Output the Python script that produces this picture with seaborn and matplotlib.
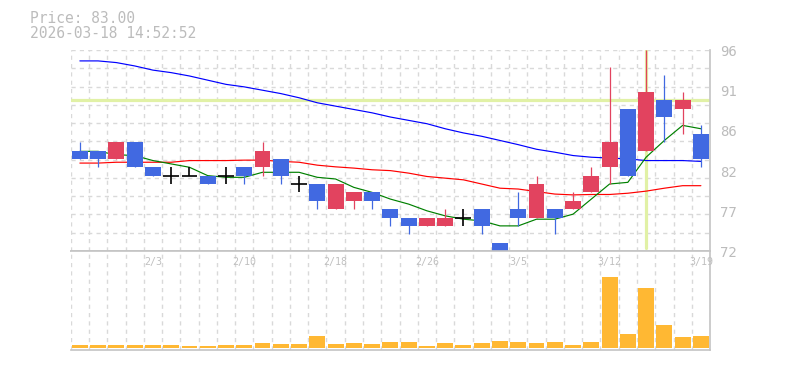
import matplotlib
matplotlib.use("Agg")
import numpy as np
import matplotlib.pyplot as plt
import seaborn as sns
from matplotlib.transforms import offset_copy

# daily candles, 1/28 .. 3/19
opens = [84, 84, 83, 85, 82, 81, 81, 81, 81, 82, 82, 83, 80, 80, 77, 78, 79, 77,
         76, 75, 75, 76, 77, 73, 77, 76, 77, 77, 79, 82, 89, 84, 90, 89, 86]
closes = [83, 83, 85, 82, 81, 81, 81, 80, 81, 81, 84, 81, 80, 78, 80, 79, 78, 76,
          75, 76, 76, 76, 75, 72, 76, 80, 76, 78, 81, 85, 81, 91, 88, 90, 83]
highs = [85, 84, 85, 85, 82, 82, 82, 81, 82, 82, 85, 83, 81, 80, 80, 79, 79, 77,
         76, 76, 77, 77, 77, 73, 79, 81, 77, 79, 82, 94, 89, 96, 93, 91, 87]
lows = [83, 82, 83, 82, 81, 80, 81, 80, 80, 80, 81, 80, 79, 77, 77, 77, 77, 75,
        74, 75, 75, 75, 74, 72, 75, 76, 74, 77, 79, 80, 81, 84, 85, 86, 82]

volumes = [27, 27, 27, 27, 27, 27, 17, 17, 27, 27, 47, 37, 37, 117, 37, 47, 37, 57,
           57, 17, 47, 27, 47, 67, 57, 47, 57, 27, 57, 710, 140, 600, 227, 110, 120]

ma5 = [83.9, 83.9, 83.5, 83.4, 82.8, 82.4, 82.0, 81.0, 80.8, 80.8, 81.4, 81.4,
       81.4, 80.8, 80.6, 79.6, 79.0, 78.2, 77.6, 76.8, 76.2, 75.8, 75.6, 75.0,
       75.0, 75.8, 75.8, 76.4, 78.2, 80.0, 80.2, 83.2, 85.2, 87.0, 86.6]
ma25 = [82.5, 82.5, 82.6, 82.6, 82.6, 82.6, 82.8, 82.8, 82.8, 82.85, 82.85, 82.7,
        82.6, 82.25, 82.05, 81.9, 81.7, 81.6, 81.3, 80.9, 80.7, 80.5, 80.0, 79.5,
        79.4, 79.1, 78.8, 78.7, 78.75, 78.75, 78.9, 79.15, 79.5, 79.8, 79.8]
ma75 = [94.7, 94.7, 94.5, 94.1, 93.6, 93.3, 92.9, 92.4, 91.9, 91.6, 91.2, 90.8,
        90.3, 89.7, 89.3, 88.9, 88.5, 88.0, 87.6, 87.2, 86.6, 86.1, 85.7, 85.2,
        84.7, 84.15, 83.8, 83.4, 83.2, 83.1, 83.0, 82.8, 82.8, 82.8, 82.7]

date_pos = [4, 9, 14, 19, 24, 29, 34]
date_labels = ["2/3", "2/10", "2/18", "2/26", "3/5", "3/12", "3/19"]
price_ticks = [72, 76.8, 81.6, 86.4, 91.2, 96]
price_tick_labels = ["72", "77", "82", "86", "91", "96"]
cross_idx = 31
cross_price = 90

sns.set_theme(style="white")
plt.rcParams['font.family'] = ['DejaVu Sans Mono', 'DejaVu Sans']

UP = "#e2435f"
DOWN = "#4169e1"
GRID = "#d9d9d9"
BORDER = "#c4c4c4"
TXT = "#bcbcbc"
n = len(closes)
idx = np.arange(n)
w = 0.87

fig = plt.figure(figsize=(7.85, 3.7), dpi=100)
ax = fig.add_axes([0.0901, 0.3216, 0.8144, 0.5432])
axv = fig.add_axes([0.0901, 0.0541, 0.8144, 0.2676])

# price panel
ax.set_axisbelow(True)
ax.axhline(cross_price, color="#e1f1a6", lw=2.3, zorder=1)
ax.axvline(cross_idx, ymin=0.015, color="#e1f1a6", lw=2.3, zorder=1)

sns.lineplot(x=idx, y=ma75, color="#0000ff", lw=0.85, ax=ax, zorder=2)
sns.lineplot(x=idx, y=ma25, color="#ff0000", lw=0.85, ax=ax, zorder=2)
sns.lineplot(x=idx, y=ma5, color="#008000", lw=0.85, ax=ax, zorder=2)

for i in range(n):
    o, c, h, l = opens[i], closes[i], highs[i], lows[i]
    if o == c:
        ax.vlines(i, l, h, color="black", lw=1.2, zorder=4)
        ax.hlines(o, i - w / 2, i + w / 2, color="black", lw=1.2, zorder=4)
    else:
        col = UP if c > o else DOWN
        ax.vlines(i, l, h, color=col, lw=0.9, zorder=3)
        ax.bar(i, abs(c - o), bottom=min(o, c), width=w, color=col,
               linewidth=0, zorder=4)

ax.set_xlim(-0.5, n - 0.5)
ax.set_ylim(72, 96)
ax.set_xticks(np.arange(-0.5, n, 1))
ax.set_yticks(np.linspace(72, 96, 12))
ax.tick_params(length=0, labelbottom=False, labelleft=False)
ax.grid(True, color=GRID, linestyle=(0, (3, 3)), lw=1)
ax.set_xlabel("")
ax.set_ylabel("")
for s in ["top", "left"]:
    ax.spines[s].set_visible(False)
for s in ["right", "bottom"]:
    ax.spines[s].set_color(BORDER)
    ax.spines[s].set_linewidth(1.2)

lab_tr = offset_copy(ax.get_yaxis_transform(), fig=fig, x=10, y=-2, units="dots")
for v, t in zip(price_ticks, price_tick_labels):
    ax.text(1.0, v, t, transform=lab_tr, ha="left", va="center",
            fontsize=10, color=TXT, clip_on=False)

# volume panel
axv.set_axisbelow(True)
sns.barplot(x=idx, y=volumes, native_scale=True, color="#ffb833", saturation=1,
            width=w, errorbar=None, linewidth=0, ax=axv)
axv.set_xlim(-0.5, n - 0.5)
axv.set_ylim(-23, 967)
axv.set_xticks(np.arange(-0.5, n, 1))
axv.set_yticks([])
axv.tick_params(length=0, labelbottom=False, labelleft=False)
axv.grid(True, axis="x", color=GRID, linestyle=(0, (3, 3)), lw=1)
axv.set_xlabel("")
axv.set_ylabel("")
axv.spines["left"].set_visible(False)
for s in ["top", "right", "bottom"]:
    axv.spines[s].set_color(BORDER)
    axv.spines[s].set_linewidth(1.2)

for p, t in zip(date_pos, date_labels):
    axv.text(p, 0.886, t, transform=axv.get_xaxis_transform(), ha="center",
             va="center", fontsize=7.2, color="#c0c0c0", clip_on=False)

fig.text(30 / 785, 1 - 18.3 / 370, "Price: 83.00", fontsize=10.5, color=TXT,
         ha="left", va="center")
fig.text(30 / 785, 1 - 33.3 / 370, "2026-03-18 14:52:52", fontsize=10.5,
         color=TXT, ha="left", va="center")

fig.savefig("out.png", dpi=100, facecolor="white")
